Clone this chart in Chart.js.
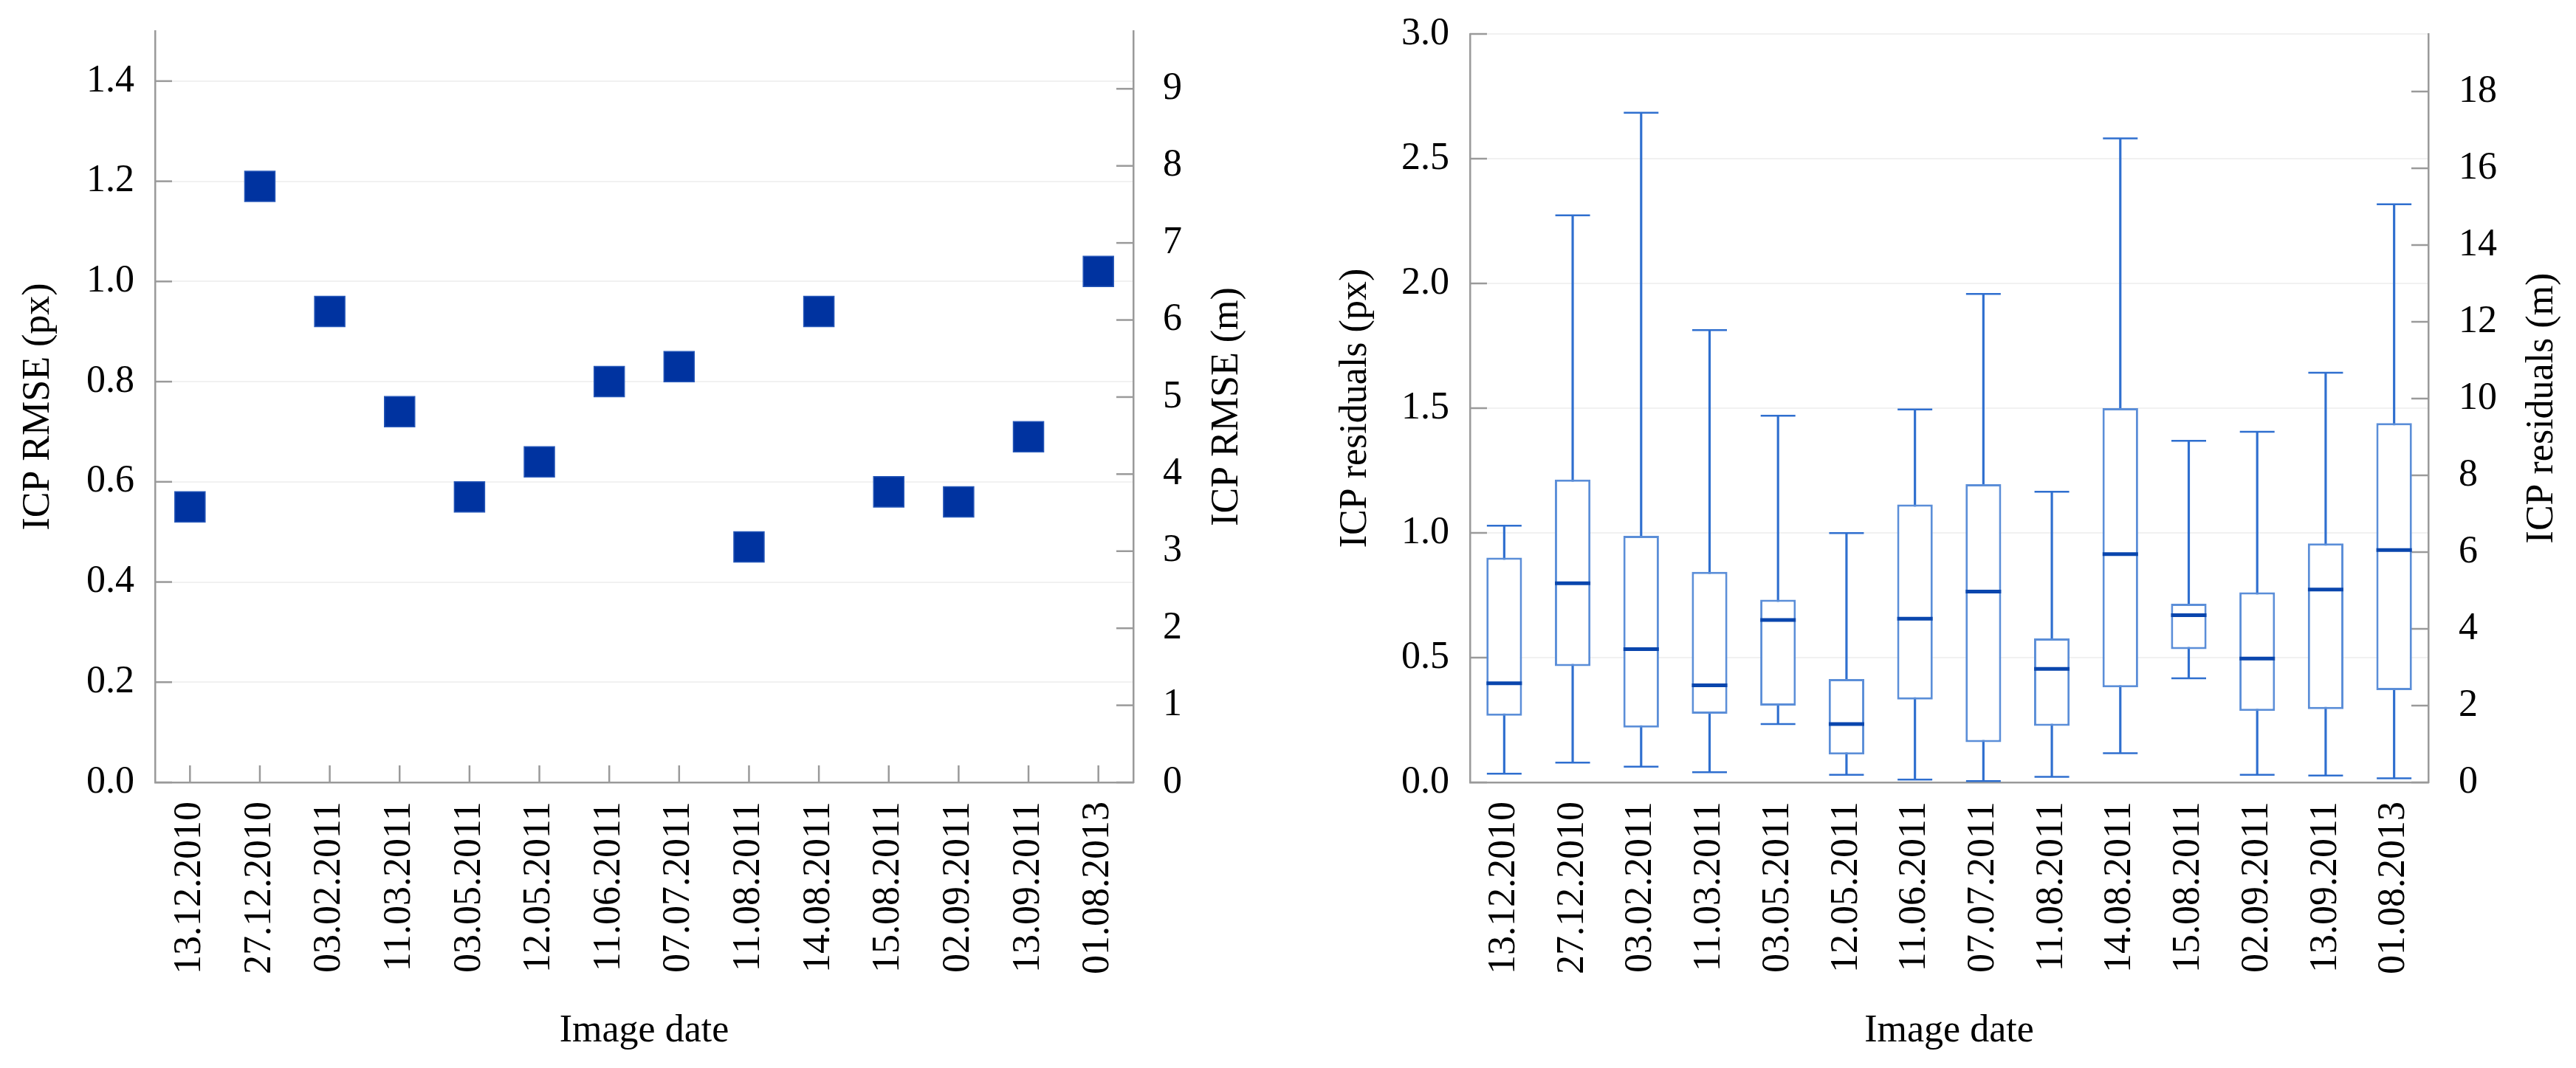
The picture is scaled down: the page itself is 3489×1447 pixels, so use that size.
<!DOCTYPE html>
<html><head><meta charset="utf-8">
<script src="https://cdn.jsdelivr.net/npm/chart.js@4.4.1/dist/chart.umd.min.js"></script>
<style>
html,body{margin:0;padding:0;background:#fff;}
#wrap{position:relative;width:3489px;height:1447px;background:#fff;}
#c1box{position:absolute;left:0;top:0;width:1744px;height:1447px;}
#c2box{position:absolute;left:1744px;top:0;width:1745px;height:1447px;}
canvas{display:block;}
</style></head><body>
<div id="wrap">
  <div id="c1box"><canvas id="c1" width="1744" height="1447"></canvas></div>
  <div id="c2box"><canvas id="c2" width="1745" height="1447"></canvas></div>
</div>
<script>
// ---- data ----
const imageDates = ['13.12.2010','27.12.2010','03.02.2011','11.03.2011','03.05.2011','12.05.2011','11.06.2011','07.07.2011','11.08.2011','14.08.2011','15.08.2011','02.09.2011','13.09.2011','01.08.2013'];
const rmsePx = [0.55, 1.19, 0.94, 0.74, 0.57, 0.64, 0.80, 0.83, 0.47, 0.94, 0.58, 0.56, 0.69, 1.02];
const resMin    = [0.035, 0.079, 0.063, 0.041, 0.234, 0.030, 0.011, 0.005, 0.022, 0.117, 0.417, 0.030, 0.027, 0.016];
const resQ1     = [0.267, 0.466, 0.220, 0.275, 0.308, 0.112, 0.332, 0.161, 0.226, 0.381, 0.534, 0.286, 0.294, 0.370];
const resMedian = [0.397, 0.798, 0.534, 0.389, 0.651, 0.234, 0.656, 0.765, 0.455, 0.915, 0.670, 0.496, 0.773, 0.931];
const resQ3     = [0.901, 1.214, 0.988, 0.844, 0.732, 0.414, 1.114, 1.195, 0.577, 1.500, 0.716, 0.762, 0.958, 1.440];
const resMax    = [1.029, 2.273, 2.684, 1.813, 1.470, 0.999, 1.495, 1.958, 1.165, 2.581, 1.369, 1.405, 1.642, 2.317];
const pxToMetres = 6.5;
const rmseAxisMaxPx = 1.5;
const residualAxisMaxPx = 3.0;

// ---- styles ----
const FONT = '"Liberation Serif", "DejaVu Serif", serif';
const FS = 52;
const AXIS_COLOR = '#9a9a9a';
const GRID_COLOR = '#f1f1f1';
Chart.defaults.font.family = FONT;
Chart.defaults.font.size = FS;
Chart.defaults.color = '#000';

const innerTicks = {
  id: 'innerTicks',
  beforeDatasetsDraw(chart, args, opts) {
    const ctx = chart.ctx, a = chart.chartArea;
    ctx.save();
    ctx.strokeStyle = opts.color; ctx.lineWidth = opts.width;
    (opts.axes || []).forEach(ax => {
      const s = chart.scales[ax.id]; if (!s) return;
      s.ticks.forEach((t, i) => {
        const p = s.getPixelForTick(i);
        ctx.beginPath();
        if (ax.side === 'left') { ctx.moveTo(a.left, p); ctx.lineTo(a.left + opts.length, p); }
        else if (ax.side === 'right') { ctx.moveTo(a.right, p); ctx.lineTo(a.right - opts.length, p); }
        else { ctx.moveTo(p, a.bottom); ctx.lineTo(p, a.bottom - opts.length); }
        ctx.stroke();
      });
    });
    ctx.restore();
  }
};
const rightTitle = {
  id: 'rightTitle',
  afterDraw(chart, args, opts) {
    const s = chart.scales[opts.scaleId]; if (!s) return;
    const a = chart.chartArea, ctx = chart.ctx;
    ctx.save();
    ctx.translate(s.right - opts.offset, (a.top + a.bottom) / 2);
    ctx.rotate(-Math.PI / 2);
    ctx.textAlign = 'center'; ctx.textBaseline = 'middle';
    ctx.font = FS + 'px ' + FONT;
    ctx.fillStyle = '#000';
    ctx.fillText(opts.text, 0, 0);
    ctx.restore();
  }
};

function fixWidth(w) {
  return function (s) { s.width = w; s.paddingTop = 0; s.paddingBottom = 0; };
}

function xScale() {
  return {
    type: 'category', offset: true,
    grid: { drawOnChartArea: false, drawTicks: false },
    border: { display: true, color: AXIS_COLOR, width: 2.5 },
    ticks: { autoSkip: false, minRotation: 90, maxRotation: 90, padding: 26, color: '#000', font: { family: FONT, size: FS } },
    title: { display: true, text: 'Image date', color: '#000', font: { family: FONT, size: FS }, padding: { top: 0, bottom: 18 } },
    afterFit(s) { s.height = 387; s.paddingLeft = 0; s.paddingRight = 0; }
  };
}

// ---- left chart ----
new Chart(document.getElementById('c1'), {
  type: 'line',
  data: {
    labels: imageDates,
    datasets: [{
      data: rmsePx, showLine: false,
      pointStyle: 'rect', pointRadius: 29, pointHoverRadius: 29,
      backgroundColor: '#0033a0', borderColor: '#2657b8', pointBorderWidth: 1.5
    }]
  },
  options: {
    responsive: false, animation: false, devicePixelRatio: 1,
    layout: { padding: { left: 0, right: 0, top: 42, bottom: 0 } },
    plugins: {
      legend: { display: false }, tooltip: { enabled: false },
      innerTicks: { color: AXIS_COLOR, width: 2.5, length: 23, axes: [{ id: 'y', side: 'left' }, { id: 'y2', side: 'right' }, { id: 'x', side: 'bottom' }] },
      rightTitle: { scaleId: 'y2', offset: 82, text: 'ICP RMSE (m)' }
    },
    scales: {
      x: xScale(),
      y: {
        type: 'linear', position: 'left', min: 0, max: rmseAxisMaxPx,
        grid: { color: GRID_COLOR, lineWidth: 2, drawTicks: false },
        border: { display: true, color: AXIS_COLOR, width: 2.5 },
        ticks: { stepSize: 0.2, includeBounds: false, padding: 28, color: '#000', font: { family: FONT, size: FS }, callback: v => v.toFixed(1) },
        title: { display: true, text: 'ICP RMSE (px)', color: '#000', font: { family: FONT, size: FS }, padding: { top: 21, bottom: 0 } },
        afterFit: fixWidth(210)
      },
      y2: {
        type: 'linear', position: 'right', display: true, min: 0, max: rmseAxisMaxPx * pxToMetres,
        grid: { drawOnChartArea: false, drawTicks: false },
        border: { display: true, color: AXIS_COLOR, width: 2.5 },
        ticks: { stepSize: 1, includeBounds: false, padding: 40, color: '#000', font: { family: FONT, size: FS }, callback: v => String(Math.round(v)) },
        afterFit: fixWidth(209)
      }
    }
  },
  plugins: [innerTicks, rightTitle]
});

// ---- right chart ----
const BOX_EDGE = '#5b8ed8';
const WHISKER = '#2f6fcf';
const MEDIAN = '#0a46ad';
new Chart(document.getElementById('c2'), {
  type: 'bar',
  data: {
    labels: imageDates,
    datasets: [
      { type: 'line', order: 1, data: resMedian, showLine: false, pointStyle: 'line', pointRadius: 24, pointHoverRadius: 24, pointBorderWidth: 5, borderColor: MEDIAN, backgroundColor: MEDIAN },
      { type: 'line', order: 2, data: resMax, showLine: false, pointStyle: 'line', pointRadius: 23.5, pointHoverRadius: 23.5, pointBorderWidth: 2.5, borderColor: WHISKER, backgroundColor: WHISKER },
      { type: 'line', order: 2, data: resMin, showLine: false, pointStyle: 'line', pointRadius: 23.5, pointHoverRadius: 23.5, pointBorderWidth: 2.5, borderColor: WHISKER, backgroundColor: WHISKER },
      { type: 'bar', order: 3, grouped: false, data: resQ1.map((v, i) => [v, resQ3[i]]), backgroundColor: '#ffffff', borderColor: BOX_EDGE, borderWidth: 3, borderSkipped: false, barPercentage: 0.52, categoryPercentage: 1 },
      { type: 'bar', order: 4, grouped: false, data: resMin.map((v, i) => [v, resMax[i]]), backgroundColor: WHISKER, borderWidth: 0, barThickness: 2.5 }
    ]
  },
  options: {
    responsive: false, animation: false, devicePixelRatio: 1,
    layout: { padding: { left: 0, right: 0, top: 46, bottom: 0 } },
    plugins: {
      legend: { display: false }, tooltip: { enabled: false },
      innerTicks: { color: AXIS_COLOR, width: 2.5, length: 23, axes: [{ id: 'y', side: 'left' }, { id: 'y2', side: 'right' }] },
      rightTitle: { scaleId: 'y2', offset: 46, text: 'ICP residuals (m)' }
    },
    scales: {
      x: xScale(),
      y: {
        type: 'linear', position: 'left', min: 0, max: residualAxisMaxPx,
        grid: { color: GRID_COLOR, lineWidth: 2, drawTicks: false },
        border: { display: true, color: AXIS_COLOR, width: 2.5 },
        ticks: { stepSize: 0.5, padding: 28, color: '#000', font: { family: FONT, size: FS }, callback: v => v.toFixed(1) },
        title: { display: true, text: 'ICP residuals (px)', color: '#000', font: { family: FONT, size: FS }, padding: { top: 61, bottom: 0 } },
        afterFit: fixWidth(247)
      },
      y2: {
        type: 'linear', position: 'right', display: true, min: 0, max: residualAxisMaxPx * pxToMetres,
        grid: { drawOnChartArea: false, drawTicks: false },
        border: { display: true, color: AXIS_COLOR, width: 2.5 },
        ticks: { stepSize: 2, includeBounds: false, padding: 41, color: '#000', font: { family: FONT, size: FS }, callback: v => String(Math.round(v)) },
        afterFit: fixWidth(200)
      }
    }
  },
  plugins: [innerTicks, rightTitle]
});
</script>
</body></html>
